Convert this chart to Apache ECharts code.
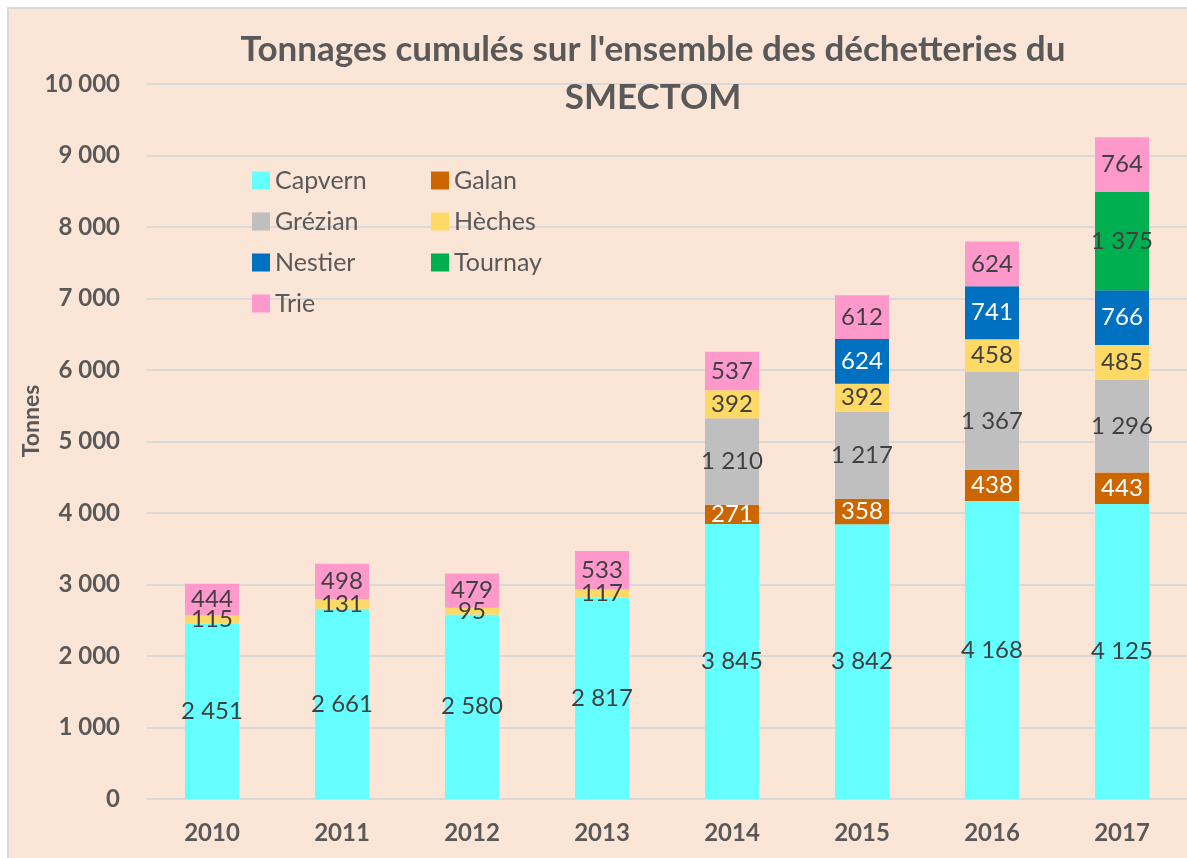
<!DOCTYPE html>
<html>
<head>
<meta charset="utf-8">
<script src="https://cdn.jsdelivr.net/npm/echarts@6/dist/echarts.min.js"></script>
<style>
  body { margin: 0; background: #fff; }
  #frame { position: absolute; left: 7px; top: 7px; width: 1180px; height: 851px;
           border-left: 2px solid #d9d9d9; border-top: 2px solid #d9d9d9; }
  #chart { width: 1178px; height: 849px; }
</style>
</head>
<body>
<div id="frame"><div id="chart"></div></div>
<script>
const years = ['2010', '2011', '2012', '2013', '2014', '2015', '2016', '2017'];
const capvern = [2451, 2661, 2580, 2817, 3845, 3842, 4168, 4125];
const galan   = [0, 0, 0, 0, 271, 358, 438, 443];
const grezian = [0, 0, 0, 0, 1210, 1217, 1367, 1296];
const heches  = [115, 131, 95, 117, 392, 392, 458, 485];
const nestier = [0, 0, 0, 0, 0, 624, 741, 766];
const tournay = [0, 0, 0, 0, 0, 0, 0, 1375];
const trie    = [444, 498, 479, 533, 537, 612, 624, 764];

const font = 'Lato, "Open Sans", sans-serif';
const grey = '#595959';

// espace comme séparateur des milliers
function fmt(v) {
    return String(v).replace(/\B(?=(\d{3})+(?!\d))/g, ' ');
}

function serie(name, data, color, labelColor) {
    return {
        name: name,
        type: 'bar',
        stack: 'total',
        barWidth: 54,
        data: data.map(v => v === 0 ? null : v),
        itemStyle: { color: color },
        label: {
            show: true,
            position: 'inside',
            color: labelColor,
            fontFamily: font,
            fontSize: 24,
            formatter: p => fmt(p.value)
        }
    };
}

const legendText = { color: grey, fontFamily: font, fontSize: 25, lineHeight: 22 };

const chart = echarts.init(document.getElementById('chart'));
chart.setOption({
    backgroundColor: '#fbe5d7',
    animation: false,
    title: {
        text: "Tonnages cumulés sur l'ensemble des déchetteries du\nSMECTOM",
        left: 639,
        top: 12,
        textAlign: 'center',
        textStyle: { color: grey, fontFamily: font, fontSize: 35, fontWeight: 'bold', lineHeight: 48 }
    },
    legend: [{
        orient: 'vertical',
        left: 238,
        top: 154,
        itemWidth: 18,
        itemHeight: 18,
        itemGap: 16,
        icon: 'rect',
        data: ['Capvern', 'Grézian', 'Nestier', 'Trie'],
        textStyle: legendText
    }, {
        orient: 'vertical',
        left: 417,
        top: 154,
        itemWidth: 18,
        itemHeight: 18,
        itemGap: 16,
        icon: 'rect',
        data: ['Galan', 'Hèches', 'Tournay'],
        textStyle: legendText
    }],
    graphic: [{
        type: 'text',
        x: 23,
        y: 412,
        rotation: Math.PI / 2,
        style: {
            text: 'Tonnes',
            align: 'center',
            verticalAlign: 'middle',
            fill: grey,
            font: 'bold 23px ' + font
        }
    }],
    grid: { left: 138, right: 0, top: 75, bottom: 59, containLabel: false },
    xAxis: {
        type: 'category',
        data: years,
        axisTick: { show: false },
        axisLine: { lineStyle: { color: '#d9d9d9', width: 2 } },
        axisLabel: { color: grey, fontFamily: font, fontSize: 24, fontWeight: 'bold', margin: 22 }
    },
    yAxis: {
        type: 'value',
        min: 0,
        max: 10000,
        interval: 1000,
        axisLine: { show: false },
        axisTick: { show: false },
        splitLine: { lineStyle: { color: '#d9d9d9', width: 2 } },
        axisLabel: { color: grey, fontFamily: font, fontSize: 24, fontWeight: 'bold', margin: 27, formatter: v => fmt(v) }
    },
    series: [
        serie('Capvern', capvern, '#66ffff', '#404040'),
        serie('Galan', galan, '#cc6600', '#ffffff'),
        serie('Grézian', grezian, '#bfbfbf', '#404040'),
        serie('Hèches', heches, '#ffd966', '#404040'),
        serie('Nestier', nestier, '#0070c0', '#ffffff'),
        serie('Tournay', tournay, '#00b050', '#404040'),
        serie('Trie', trie, '#ff99cc', '#404040')
    ]
});
</script>
</body>
</html>
